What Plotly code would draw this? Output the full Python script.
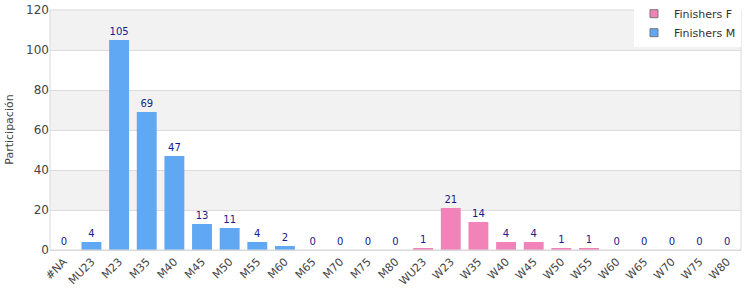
import plotly.graph_objects as go

categories = ["#NA", "MU23", "M23", "M35", "M40", "M45", "M50", "M55", "M60", "M65", "M70", "M75", "M80",
              "WU23", "W23", "W35", "W40", "W45", "W50", "W55", "W60", "W65", "W70", "W75", "W80"]
finishers_m = [0, 4, 105, 69, 47, 13, 11, 4, 2, 0, 0, 0, 0] + [None] * 12
finishers_f = [None] * 13 + [1, 21, 14, 4, 4, 1, 1, 0, 0, 0, 0, 0]
y_ticks = [0, 20, 40, 60, 80, 100, 120]

color_f = "#f283b8"
color_m = "#60a8f4"

fig = go.Figure()
fig.add_trace(go.Bar(x=categories, y=finishers_f, name="Finishers F", marker_color=color_f,
                     marker_line_width=0, text=[("" if v is None else str(v)) for v in finishers_f],
                     textposition="outside", textfont=dict(color="#1a1a8c", size=10), cliponaxis=False,
                     showlegend=False))
fig.add_trace(go.Bar(x=categories, y=finishers_m, name="Finishers M", marker_color=color_m,
                     marker_line_width=0, text=[("" if v is None else str(v)) for v in finishers_m],
                     textposition="outside", textfont=dict(color="#1a1a8c", size=10), cliponaxis=False,
                     showlegend=False))
# legend entries with bordered square swatches
for name, col in [("Finishers F", color_f), ("Finishers M", color_m)]:
    fig.add_trace(go.Scatter(x=[None], y=[None], mode="markers", name=name,
                             marker=dict(symbol="square", size=8, color=col,
                                         line=dict(color="#777", width=1))))

# alternating bands
for i in range(len(y_ticks) - 1):
    if i % 2 == 1:
        fig.add_shape(type="rect", xref="paper", yref="y", x0=0, x1=1, y0=y_ticks[i], y1=y_ticks[i + 1],
                      fillcolor="#f2f2f2", line_width=0, layer="below")
fig.add_shape(type="rect", xref="paper", yref="paper", x0=0, x1=1, y0=0, y1=1,
              line=dict(color="#d9d9d9", width=1), fillcolor="rgba(0,0,0,0)")

fig.add_annotation(text="Participación", xref="paper", yref="paper", x=-0.072, y=0.5,
                   xanchor="left", yanchor="middle", textangle=-90, showarrow=False,
                   font=dict(size=11, color="#444"))

fig.update_layout(
    width=750, height=300, barmode="overlay", bargap=0.28,
    margin=dict(l=50, r=9, t=10, b=50, autoexpand=False),
    paper_bgcolor="white", plot_bgcolor="white",
    font=dict(family="DejaVu Sans", size=11, color="#444"),
    showlegend=True,
    legend=dict(x=1, y=1.045, xanchor="right", yanchor="top", bgcolor="white",
                traceorder="normal", font=dict(size=11, color="#333"),
                itemwidth=30, tracegroupgap=0),
)
fig.update_xaxes(tickangle=-45, showgrid=False, showline=True, linecolor="#d9d9d9",
                 tickfont=dict(size=11, color="#444"), automargin=False)
fig.update_yaxes(range=[0, 120], tickvals=y_ticks, showgrid=True, gridcolor="#dcdcdc",
                 zeroline=False, tickfont=dict(size=12, color="#444"), automargin=False)

fig.write_html("out.html")
